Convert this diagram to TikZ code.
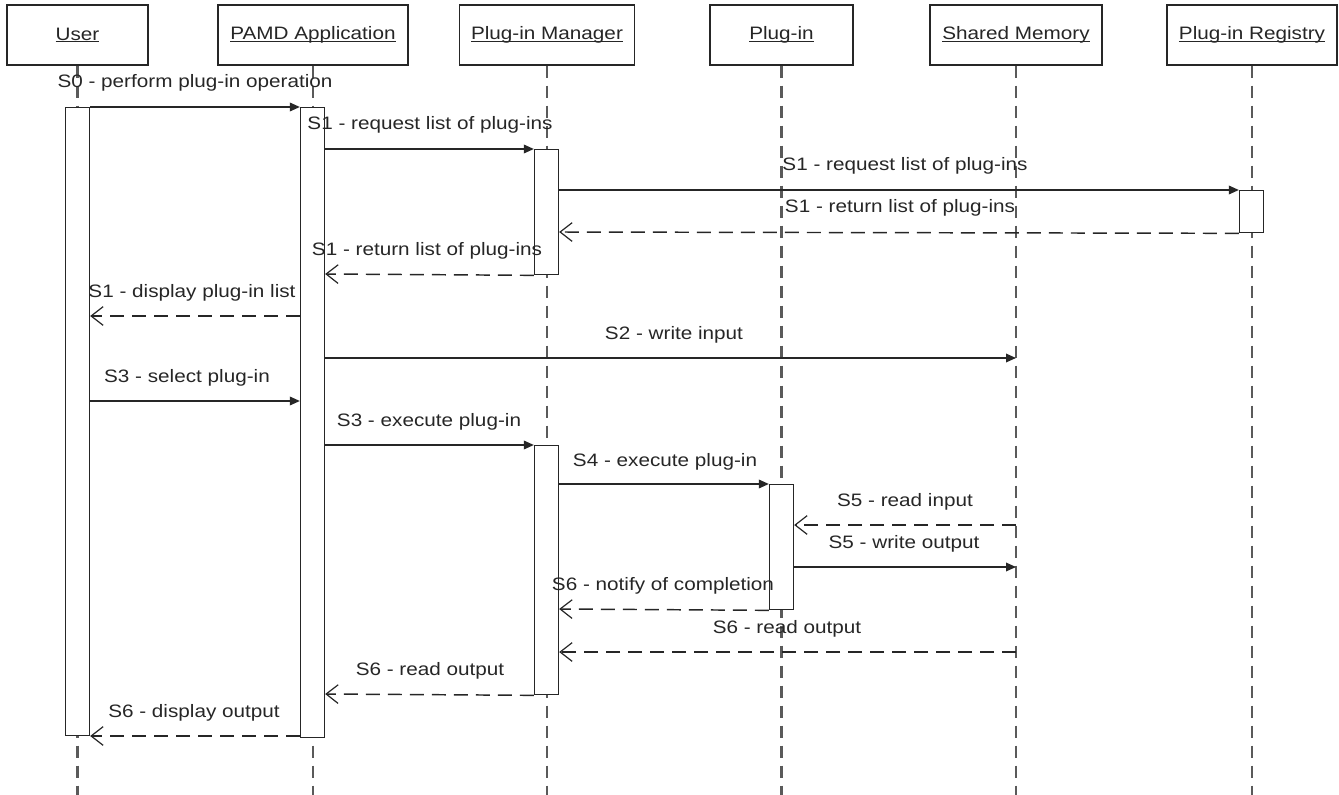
\documentclass[tikz,border=0pt]{standalone}
\usepackage{fontspec}
\setmainfont{Liberation Sans}[FakeStretch=1.15]
\usetikzlibrary{arrows.meta}
\definecolor{ink}{HTML}{262626}
\definecolor{lifegray}{HTML}{5A5A5A}
% underlined participant name, the rule sits just under the baseline
\newcommand\lifelabel[1]{\setbox0\hbox{#1}\rlap{\rule[-1.6pt]{\wd0}{0.7pt}}\box0}

\begin{document}
\begin{tikzpicture}[x=0.75pt,y=-0.75pt,
  every node/.style={font=\fontsize{13.5pt}{16pt}\selectfont, text=ink},
  head/.style={draw=ink, line width=1.1pt, fill=white, minimum height=45pt, inner sep=0pt},
  life/.style={draw=lifegray, line width=2pt, dash pattern=on 9pt off 6pt},
  act/.style={draw=ink, line width=1pt, fill=white, minimum width=18pt, inner sep=0pt, anchor=north},
  call/.style={draw=ink, line width=0.95pt, -{Triangle[length=7.5pt,width=6.5pt]}},
  reply/.style={draw=ink, line width=1.1pt, dash pattern=on 10.5pt off 6pt, -{Straight Barb[length=9pt,width=14pt,line width=0.9pt]}},
  msg/.style={anchor=base}]

\useasboundingbox (0,0) rectangle (1339,795);

% participants
\node[head, minimum width=105.75pt] (user) at (77.5,35) {\lifelabel{User}};
\node[head, minimum width=142.5pt] (pamd) at (313,35) {\lifelabel{PAMD Application}};
\node[head, minimum width=131.25pt] (mgr) at (547,35) {\lifelabel{Plug-in Manager}};
\node[head, minimum width=107.25pt] (plug) at (781.5,35) {\lifelabel{Plug-in}};
\node[head, minimum width=129pt] (shm) at (1016,35) {\lifelabel{Shared Memory}};
\node[head, minimum width=127.5pt] (reg) at (1252,35) {\lifelabel{Plug-in Registry}};

% lifelines
\foreach \p in {user,pamd,mgr,plug,shm,reg}
  \draw[life] (\p.south) -- (\p.south |- 0,795);

% activation bars
\node[act, minimum height=471pt] (actU) at (77.5,107) {};
\node[act, minimum height=472.5pt] (actP) at (312.5,107) {};
\node[act, minimum height=93.75pt] (actM1) at (546.5,149) {};
\node[act, minimum height=31.5pt] (actR) at (1251.5,190) {};
\node[act, minimum height=186.75pt] (actM2) at (546.5,445) {};
\node[act, minimum height=93.75pt] (actPl) at (781.5,484) {};

% messages
\draw[call] (actU.north east) -- (actP.north west);
\node[msg] (l0) at (195,88) {S0 - perform plug-in operation};

\draw[call] (actP.east |- 0,149) -- (actM1.north west);
\node[msg] (l1) at (430,130) {S1 - request list of plug-ins};

\draw[call] (actM1.east |- 0,190) -- (actR.north west);
\node[msg] (l2) at (905,171) {S1 - request list of plug-ins};

\draw[reply] (actR.south west) -- (actM1.east |- 0,232);
\node[msg] (l3) at (900,213) {S1 - return list of plug-ins};

\draw[reply] (actM1.south west) -- (actP.east |- 0,274);
\node[msg] (l4) at (427,255) {S1 - return list of plug-ins};

\draw[reply] (actP.west |- 0,316) -- (actU.east |- 0,316);
\node[msg] (l5) at (192,297) {S1 - display plug-in list};

\draw[call] (actP.east |- 0,358) -- (shm.south |- 0,358);
\node[msg] (l6) at (674,339) {S2 - write input};

\draw[call] (actU.east |- 0,401) -- (actP.west |- 0,401);
\node[msg] (l7) at (187,382) {S3 - select plug-in};

\draw[call] (actP.east |- 0,445) -- (actM2.north west);
\node[msg] (l8) at (429,426) {S3 - execute plug-in};

\draw[call] (actM2.east |- 0,484) -- (actPl.north west);
\node[msg] (l9) at (665,466) {S4 - execute plug-in};

\draw[reply] (shm.south |- 0,525) -- (actPl.east |- 0,525);
\node[msg] (l10) at (905,506) {S5 - read input};

\draw[call] (actPl.east |- 0,567) -- (shm.south |- 0,567);
\node[msg] (l11) at (904,548) {S5 - write output};

\draw[reply] (actPl.south west) -- (actM2.east |- 0,609);
\node[msg] (l12) at (663,590) {S6 - notify of completion};

\draw[reply] (shm.south |- 0,652) -- (actM2.east |- 0,652);
\node[msg] (l13) at (787,633) {S6 - read output};

\draw[reply] (actM2.south west) -- (actP.east |- 0,694);
\node[msg] (l14) at (430,675) {S6 - read output};

\draw[reply] (actP.west |- 0,736) -- (actU.east |- 0,736);
\node[msg] (l15) at (194,717) {S6 - display output};
\end{tikzpicture}
\end{document}
